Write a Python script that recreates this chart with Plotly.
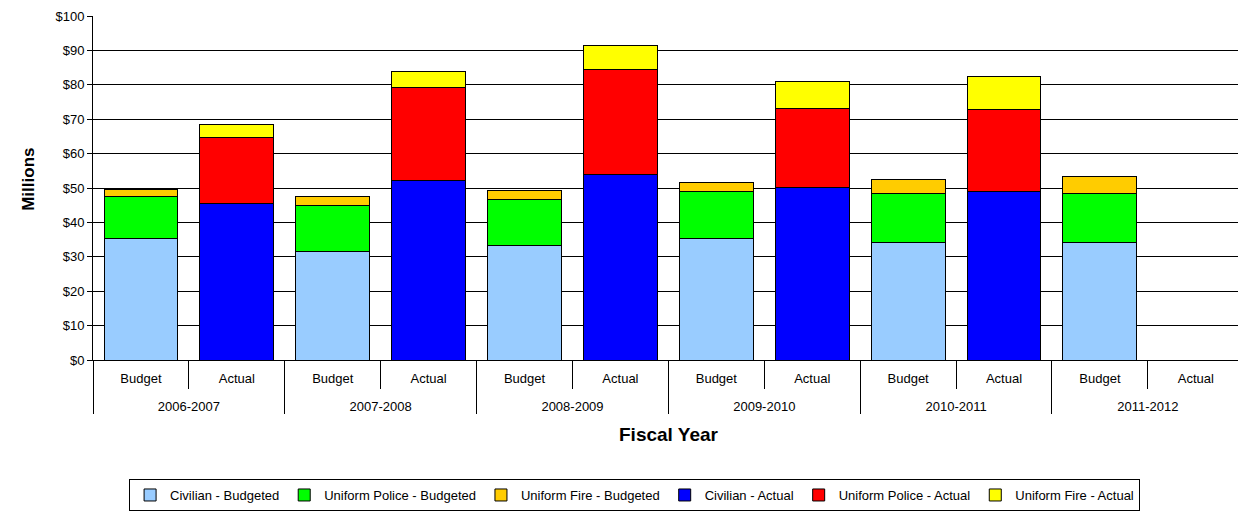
import plotly.graph_objects as go

years = ["2006-2007", "2007-2008", "2008-2009", "2009-2010", "2010-2011", "2011-2012"]
kinds = ["Budget", "Actual"]

civilian_budgeted = [35.3, 31.5, 33.4, 35.2, 34.2, 34.2]
police_budgeted = [12.2, 13.3, 13.3, 13.8, 14.1, 14.1]
fire_budgeted = [2.1, 2.8, 2.7, 2.7, 4.1, 5.1]
civilian_actual = [45.5, 52.2, 54.0, 50.1, 49.0, None]
police_actual = [19.2, 27.1, 30.5, 23.0, 23.7, None]
fire_actual = [3.9, 4.5, 7.0, 8.0, 9.6, None]

y_ticks = [0, 10, 20, 30, 40, 50, 60, 70, 80, 90, 100]
y_labels = ["$" + str(v) for v in y_ticks]

outer = [y for y in years for _ in kinds]
# trailing blank line leaves room between the two label rows
inner = [k + "<br> " for _ in years for k in kinds]


def spread(values, kind):
    out = []
    for v in values:
        for k in kinds:
            out.append(v if k == kind else None)
    return out


series = [
    ("Civilian - Budgeted", civilian_budgeted, "Budget", "#99CCFF"),
    ("Uniform Police - Budgeted", police_budgeted, "Budget", "#00FF00"),
    ("Uniform Fire - Budgeted", fire_budgeted, "Budget", "#FFCC00"),
    ("Civilian - Actual", civilian_actual, "Actual", "#0000FF"),
    ("Uniform Police - Actual", police_actual, "Actual", "#FF0000"),
    ("Uniform Fire - Actual", fire_actual, "Actual", "#FFFF00"),
]

fig = go.Figure()
for name, vals, kind, color in series:
    fig.add_trace(go.Bar(
        x=[outer, inner], y=spread(vals, kind), name=name,
        marker=dict(color=color, line=dict(color="black", width=1)),
    ))

font = "Arial, Liberation Sans, sans-serif"
fig.update_layout(
    barmode="stack", bargap=0.23,
    width=1238, height=514,
    margin=dict(l=93, r=0, t=16, b=154),
    paper_bgcolor="white", plot_bgcolor="white",
    font=dict(family=font, size=13, color="black"),
    showlegend=True,
    legend=dict(orientation="h", x=0.473, xanchor="center", y=-0.346, yanchor="top",
                bordercolor="black", borderwidth=1, font=dict(size=13, family=font),
                traceorder="normal"),
    xaxis=dict(type="multicategory", range=[-0.5, 11.44], autorange=False,
               showline=True, linecolor="black", linewidth=1,
               ticks="outside", tickson="boundaries", ticklen=28, tickcolor="black",
               showdividers=True, dividercolor="black", dividerwidth=1,
               ticklabelstandoff=6,
               tickfont=dict(size=13, family=font)),
    yaxis=dict(range=[0, 100], autorange=False, tickvals=y_ticks, ticktext=y_labels,
               showgrid=True, gridcolor="black", gridwidth=1,
               showline=True, linecolor="black", linewidth=1,
               ticks="outside", ticklen=5, tickcolor="black",
               tickfont=dict(size=13, family=font), zeroline=False),
    annotations=[
        dict(text="<b>Millions</b>", xref="paper", yref="paper", x=-0.057, y=0.526,
             textangle=-90, showarrow=False, font=dict(size=17, family=font),
             xanchor="center", yanchor="middle"),
        dict(text="<b>Fiscal Year</b>", xref="paper", yref="paper", x=0.503, y=-0.218,
             showarrow=False, font=dict(size=19, family=font),
             xanchor="center", yanchor="middle"),
    ],
)

fig.write_html("out.html")
